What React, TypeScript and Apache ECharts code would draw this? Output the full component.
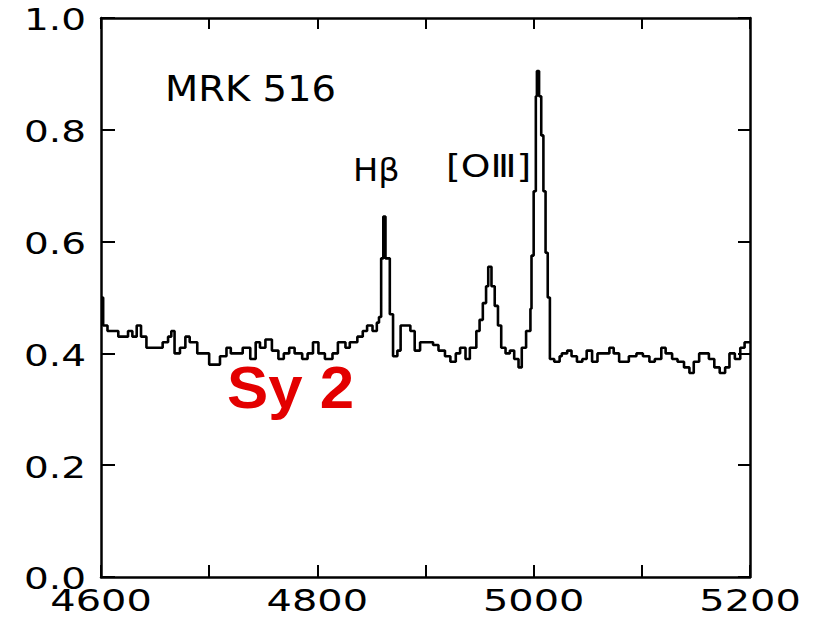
import React, { useEffect, useRef } from "react";
import * as echarts from "echarts";

const wavelength = [
  4600, 4602, 4606, 4610, 4616, 4621, 4625, 4629, 4633, 4637, 4642, 4647, 4653, 4657, 4662, 4665,
  4668, 4673, 4678, 4682, 4689, 4694, 4700, 4704, 4710, 4716, 4720, 4726, 4731, 4738, 4743, 4747,
  4752, 4758, 4764, 4769, 4774, 4779, 4786, 4791, 4796, 4801, 4807, 4814, 4819, 4826, 4830, 4837,
  4842, 4846, 4851, 4855, 4857, 4859, 4861, 4863, 4865, 4867, 4870, 4874, 4877, 4881, 4886, 4890,
  4895, 4900, 4907, 4912, 4918, 4923, 4928, 4932, 4937, 4941, 4947, 4950, 4953, 4956, 4958, 4961,
  4964, 4967, 4970, 4974, 4978, 4982, 4986, 4989, 4993, 4997, 4998, 5000, 5002, 5003, 5005, 5007,
  5009, 5011, 5013, 5015, 5019, 5024, 5026, 5031, 5035, 5040, 5045, 5049, 5054, 5059, 5064, 5070,
  5074, 5079, 5083, 5088, 5095, 5101, 5107, 5112, 5118, 5122, 5128, 5133, 5139, 5144, 5148, 5153,
  5157, 5162, 5167, 5172, 5177, 5181, 5186, 5191, 5195, 5198, 5200,
];

const flux = [
  0.5, 0.45, 0.44, 0.44, 0.43, 0.43, 0.44, 0.43, 0.45, 0.43, 0.41, 0.41, 0.41, 0.42, 0.43, 0.44,
  0.4, 0.41, 0.43, 0.42, 0.4, 0.4, 0.38, 0.38, 0.395, 0.41, 0.4, 0.4, 0.41, 0.39, 0.42, 0.41,
  0.425, 0.405, 0.39, 0.4, 0.41, 0.4, 0.39, 0.4, 0.42, 0.4, 0.39, 0.4, 0.42, 0.41, 0.42, 0.43,
  0.44, 0.45, 0.44, 0.455, 0.465, 0.57, 0.645, 0.57, 0.57, 0.47, 0.395, 0.405, 0.45, 0.45, 0.44, 0.405,
  0.42, 0.42, 0.415, 0.405, 0.395, 0.385, 0.4, 0.41, 0.39, 0.41, 0.44, 0.46, 0.49, 0.52, 0.555, 0.52,
  0.485, 0.45, 0.41, 0.4, 0.405, 0.39, 0.375, 0.41, 0.44, 0.48, 0.575, 0.69, 0.86, 0.905, 0.86, 0.79,
  0.69, 0.58, 0.5, 0.39, 0.385, 0.395, 0.4, 0.405, 0.395, 0.385, 0.39, 0.405, 0.385, 0.4, 0.4, 0.41,
  0.4, 0.385, 0.385, 0.395, 0.4, 0.395, 0.385, 0.39, 0.41, 0.4, 0.39, 0.385, 0.375, 0.365, 0.385, 0.4,
  0.4, 0.39, 0.375, 0.365, 0.375, 0.4, 0.39, 0.41, 0.42, 0.42, 0.42,
];

const xTickLabels = [4600, 4800, 5000, 5200];
const yTickLabels = [0, 0.2, 0.4, 0.6, 0.8, 1.0];
const objectName = "MRK 516";
const hbetaLabel = "Hβ";
const oiiiLabel = "[OⅢ]";
const classLabel = "Sy 2";

export default function App() {
  const ref = useRef<HTMLDivElement>(null);

  useEffect(() => {
    const chart = echarts.init(ref.current!, null, { renderer: "svg" });
    const axisLine = { show: true, onZero: false, lineStyle: { color: "#000", width: 2.5 } };
    const tick = (len: number) => ({
      show: true,
      inside: true,
      length: len,
      lineStyle: { color: "#000", width: 2 },
    });
    const common = {
      axisLine,
      axisLabel: { show: false },
      splitLine: { show: false },
    };
    chart.setOption({
      animation: false,
      backgroundColor: "#ffffff",
      grid: { left: 101, right: 71, top: 18, bottom: 41, containLabel: false },
      xAxis: [
        { type: "value", min: 4600, max: 5200, interval: 100, position: "bottom", axisTick: tick(12), ...common },
        { type: "value", min: 4600, max: 5200, interval: 100, position: "top", axisTick: tick(11), ...common },
      ],
      yAxis: [
        { type: "value", min: 0, max: 1, interval: 0.2, position: "left", axisTick: tick(14), ...common },
        { type: "value", min: 0, max: 1, interval: 0.2, position: "right", axisTick: tick(12), ...common },
      ],
      series: [
        {
          type: "line",
          data: wavelength.map((w, i) => [w, flux[i]]),
          step: "end",
          symbol: "none",
          showSymbol: false,
          xAxisIndex: 0,
          yAxisIndex: 0,
          lineStyle: { color: "#000", width: 2.6 },
        },
      ],
    });

    const tickFont = '30px "DejaVu Sans"';
    const graphic: any[] = [];
    xTickLabels.forEach((v) => {
      const px = chart.convertToPixel({ xAxisIndex: 0 }, v) as number;
      graphic.push({
        type: "text",
        x: px,
        y: 600,
        scaleX: 1.33,
        style: { text: String(v), font: tickFont, fill: "#000", align: "center", verticalAlign: "middle" },
      });
    });
    yTickLabels.forEach((v) => {
      const py = chart.convertToPixel({ yAxisIndex: 0 }, v) as number;
      graphic.push({
        type: "text",
        x: 86,
        y: py + 2,
        scaleX: 1.3,
        style: { text: v.toFixed(1), font: tickFont, fill: "#000", align: "right", verticalAlign: "middle" },
      });
    });
    graphic.push(
      {
        type: "text",
        x: 165,
        y: 89,
        scaleX: 1.1,
        style: { text: objectName, font: '35px "DejaVu Sans"', fill: "#000", align: "left", verticalAlign: "middle" },
      },
      {
        type: "text",
        x: 353,
        y: 170,
        scaleX: 1.05,
        style: { text: hbetaLabel, font: '32px "DejaVu Sans"', fill: "#000", align: "left", verticalAlign: "middle" },
      },
      {
        type: "text",
        x: 446,
        y: 166,
        scaleX: 1.18,
        style: { text: oiiiLabel, font: '32px "DejaVu Sans"', fill: "#000", align: "left", verticalAlign: "middle" },
      },
      {
        type: "text",
        x: 227,
        y: 387,
        scaleX: 1.03,
        style: {
          text: classLabel,
          font: 'bold 60px "Liberation Sans"',
          fill: "#e30000",
          align: "left",
          verticalAlign: "middle",
        },
      }
    );
    chart.setOption({ graphic });

    return () => chart.dispose();
  }, []);

  return (
    <div
      ref={ref}
      style={{ position: "absolute", left: 0, top: 0, width: 821, height: 618 }}
    />
  );
}
